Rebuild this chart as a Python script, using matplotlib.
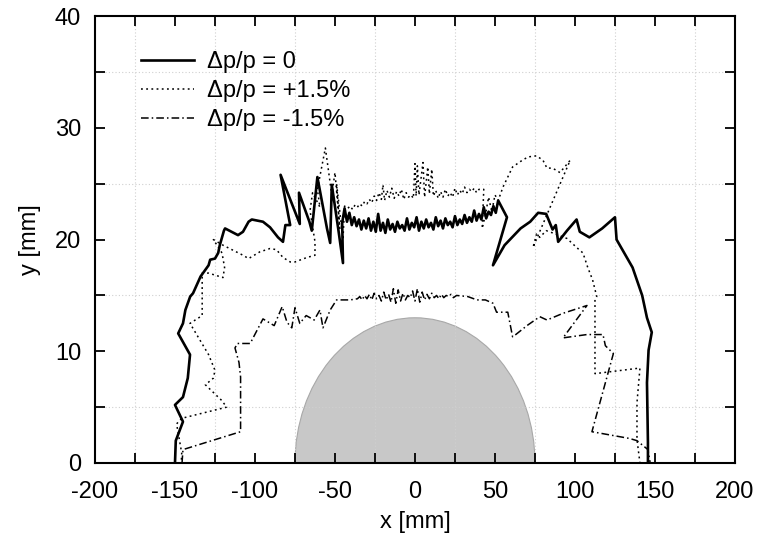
import numpy as np
import matplotlib
matplotlib.use('Agg')
import matplotlib.pyplot as plt
from matplotlib.patches import Ellipse
from matplotlib.ticker import MultipleLocator

plt.rcParams['font.family'] = ['Liberation Sans', 'DejaVu Sans']
plt.rcParams['axes.unicode_minus'] = False

# dynamic aperture contours, (x, y) in mm
# dp/p = 0
solid_left = [(-150, 0), (-149.5, 2.0), (-145, 3.7), (-150, 5.2), (-145, 5.9), (-142, 7.6),
              (-140.6, 9.7), (-148, 11.6), (-145, 12.5), (-143.5, 13.7), (-140.5, 14.9),
              (-138.7, 15.2), (-134, 16.7), (-129, 17.7), (-128, 18.2), (-125, 18.3),
              (-123, 18.8), (-122, 19.5), (-119.4, 20.8), (-118.7, 21.0), (-110.6, 20.4),
              (-107.5, 20.7), (-104, 21.6), (-102, 21.8), (-95, 21.6), (-90.6, 21.1),
              (-85.6, 20.2), (-82.5, 19.8), (-81, 21.3), (-78, 21.3), (-84, 25.8),
              (-75, 22.5), (-72, 21.4), (-72.5, 24.2), (-66, 21.6), (-64.5, 20.8),
              (-61, 25.6), (-55, 21.0), (-53, 19.7), (-52, 24.9), (-48, 21.0), (-45, 17.9),
              (-45.5, 21.5)]
solid_band = [(-44, 22.8), (-42.5, 21.6), (-41, 22.4), (-39.5, 21.3), (-38, 22.0), (-36.5, 21.2),
              (-35, 21.8), (-33.5, 20.9), (-32, 21.7), (-30.5, 21.0), (-29, 21.9), (-27.5, 20.8),
              (-26, 21.6), (-24.5, 20.7), (-23, 22.3), (-21.5, 20.8), (-20, 21.5), (-18.5, 20.6),
              (-17, 21.8), (-15.5, 20.9), (-14, 21.4), (-12.5, 20.7), (-11, 21.6), (-9.5, 21.0),
              (-8, 21.3), (-6.5, 20.8), (-5, 21.9), (-3.5, 20.9), (-2, 21.5), (-0.5, 21.1),
              (1, 22.0), (2.5, 20.8), (4, 21.6), (5.5, 21.0), (7, 21.8), (8.5, 21.1),
              (10, 21.5), (11.5, 20.9), (13, 22.0), (14.5, 21.2), (16, 21.7), (17.5, 21.0),
              (19, 21.9), (20.5, 21.3), (22, 21.6), (23.5, 21.1), (25, 22.1), (26.5, 21.3),
              (28, 21.8), (29.5, 21.4), (31, 22.2), (32.5, 21.5), (34, 22.0), (35.5, 21.6),
              (37, 22.6), (38.5, 21.7), (40, 22.3), (41.5, 21.8), (43, 22.9), (44.5, 21.9),
              (46, 22.5), (47.5, 22.2), (49, 23.0), (50.5, 22.4), (52, 23.5)]
solid_right = [(57.5, 22.0), (48.75, 17.7), (56, 19.5), (62, 20.4), (66, 21.0), (72, 21.6),
               (77, 22.4), (82, 22.3), (86, 20.9), (88, 21.3), (89.5, 19.8), (95, 20.8),
               (101, 21.8), (103, 20.7), (109, 20.2), (117, 21.0), (125, 22.0), (126, 20.0),
               (136, 17.5), (142, 15.0), (145, 13.0), (148, 11.7), (146, 10.1), (145, 7.2),
               (145.6, 1.8), (145.6, 0)]

# dp/p = +1.5%
dotted_left = [(-146, 0.3), (-145.8, 0.9), (-149, 3.5), (-145.8, 4.0), (-117.7, 5.0), (-120.8, 5.6),
               (-131, 7.0), (-126, 7.6), (-125, 8.3), (-129, 9.7), (-140.6, 12.5), (-133, 13.2),
               (-133, 17.0), (-129, 17.0), (-120, 16.6), (-119, 17.5), (-120.6, 18.8),
               (-126, 20.0), (-120, 19.5), (-113, 19.0), (-107.5, 18.6), (-104, 18.3),
               (-97, 18.9), (-90.6, 19.2), (-86.6, 19.1), (-82.5, 18.4), (-78, 18.0),
               (-75, 18.0), (-67.5, 18.4), (-62.5, 18.6), (-62.5, 19.8), (-65.6, 22.6),
               (-64, 24.2), (-59.4, 22.9), (-61, 24.5), (-56, 28.2), (-52, 24.0), (-50, 26.0),
               (-47, 21.0), (-49, 25.0), (-45, 20.0), (-44, 23.0)]
dotted_band = [(-42, 22.8), (-40.5, 23.0), (-39, 22.7), (-37.5, 23.1), (-36, 22.9), (-34.5, 23.2),
               (-33, 23.0), (-31.5, 23.4), (-30, 23.2), (-28.5, 23.6), (-27, 23.3), (-25.5, 23.9),
               (-24, 23.5), (-22.5, 24.2), (-21, 23.6), (-20, 24.9), (-19, 23.5), (-17.5, 24.4),
               (-16, 23.8), (-14.5, 24.6), (-13, 23.7), (-11.5, 24.3), (-10, 23.9), (-8.5, 24.5),
               (-7, 23.6), (-5.5, 24.2), (-4, 23.8), (-2.5, 24.0), (-1, 23.7), (0, 26.8),
               (0.7, 23.9), (1.5, 26.6), (2.5, 24.0), (5, 26.9), (6, 23.8), (8, 26.5),
               (9, 24.1), (10.5, 26.3), (11.5, 23.9), (13, 24.4), (14.5, 23.7), (16, 24.3),
               (17.5, 23.8), (19, 24.5), (20.5, 23.9), (22, 24.2), (23.5, 23.8), (25, 24.6),
               (26.5, 24.0), (28, 24.4), (29.5, 24.1), (31, 24.7), (32.5, 24.2), (34, 24.5),
               (35.5, 24.3), (37, 24.6), (38.5, 24.2), (40, 24.5), (43, 24.5)]
dotted_right = [(42, 21.0), (44, 22.2), (46, 23.8), (48, 22.5), (50, 24.0), (52, 23.5), (55, 24.7),
                (58, 25.6), (61, 26.5), (66, 27.0), (70.6, 27.4), (76, 27.5), (80, 27.1),
                (82.5, 26.4), (86, 26.4), (90.6, 26.0), (97, 27.1), (73.75, 19.3), (76, 20.5),
                (78, 20.2), (82, 20.8), (86, 20.6), (95, 20.1), (101, 19.3), (105, 18.8),
                (108, 17.5), (111, 16.4), (113.6, 14.9), (112.5, 14.6), (112.5, 8.0),
                (140.6, 8.5), (138.75, 5.4), (138.75, 2.1), (140.6, 0)]

# dp/p = -1.5%
dashdot_left = [(-145.6, 0), (-145, 1.2), (-109, 2.8), (-109, 7.7), (-110, 9.0), (-112.5, 10.3),
                (-111, 10.7), (-103, 10.7), (-95, 12.9), (-88, 12.3), (-83, 14.0), (-80, 12.6),
                (-77, 12.1), (-75, 13.9), (-72, 12.5), (-68, 13.2), (-63, 12.8), (-59.4, 13.7),
                (-57.5, 12.1), (-53, 13.7), (-49, 14.6), (-40.6, 14.6), (-36, 14.7)]
dashdot_band = [(-34.5, 14.9), (-33, 14.6), (-31.5, 15.0), (-30, 14.7), (-28.5, 15.1), (-27, 14.6),
                (-25.5, 15.2), (-24, 14.7), (-22.5, 15.0), (-21, 14.5), (-19.5, 15.3), (-18, 14.6),
                (-16.5, 15.1), (-15, 14.4), (-13.5, 15.6), (-12, 14.3), (-10.5, 15.5), (-9, 14.5),
                (-7.5, 15.2), (-6, 14.6), (-4.5, 15.0), (-3, 14.8), (-1.5, 15.4), (0, 14.5),
                (1.5, 15.6), (3, 14.4), (4.5, 15.3), (6, 14.6), (7.5, 15.1), (9, 14.7),
                (10.5, 15.2), (12, 14.8), (13.5, 15.0), (15, 14.7), (16.5, 15.1), (18, 14.8),
                (19.5, 15.0), (21, 14.9), (22.5, 15.1), (24, 14.8), (26, 15.0)]
dashdot_right = [(33, 14.9), (38.75, 14.6), (44, 14.6), (48.75, 14.3), (51, 13.5), (58, 13.5),
                 (61, 11.3), (63, 11.5), (70, 12.3), (78, 13.1), (82.5, 12.8), (92.5, 13.4),
                 (107.5, 14.1), (92.5, 11.2), (107.5, 11.5), (117.5, 11.5), (119, 10.5),
                 (124, 9.8), (110.6, 2.8), (134, 2.2), (138.75, 2.0), (145.6, 1.2), (147, 0)]

beam_half_width = 75
beam_height = 13

labels = ['\u0394p/p = 0', '\u0394p/p = +1.5%', '\u0394p/p = -1.5%']


fig = plt.figure(figsize=(7.66, 5.40), dpi=100)
ax = fig.add_axes([0.124, 0.1426, 0.8355, 0.8274])

ax.add_patch(Ellipse((0, 0), 2*beam_half_width, 2*beam_height, facecolor='#c8c8c8',
                     edgecolor='#a8a8a8', lw=0.8, zorder=1))

s = np.array(solid_left + solid_band + solid_right)
d = np.array(dotted_left + dotted_band + dotted_right)
dd = np.array(dashdot_left + dashdot_band + dashdot_right)

ax.plot(s[:, 0], s[:, 1], color='black', lw=1.9, label=labels[0], zorder=3)
ax.plot(d[:, 0], d[:, 1], color='black', lw=1.1, ls=(0, (1.2, 2.2)), label=labels[1], zorder=3)
ax.plot(dd[:, 0], dd[:, 1], color='black', lw=1.1, ls=(0, (5, 2, 1, 2)), label=labels[2], zorder=3)

ax.set_xlim(-200, 200)
ax.set_ylim(0, 40)
ax.xaxis.set_major_locator(MultipleLocator(50))
ax.xaxis.set_minor_locator(MultipleLocator(25))
ax.yaxis.set_major_locator(MultipleLocator(10))
ax.yaxis.set_minor_locator(MultipleLocator(5))
ax.tick_params(which='both', direction='in', top=True, right=True, length=7, width=1.3,
               labelsize=17)
ax.tick_params(axis='x', which='both', pad=13)
ax.tick_params(axis='y', which='both', pad=10)
ax.grid(which='minor', color='#d0d0d0', ls=(0, (1, 2)), lw=0.8)
for sp in ax.spines.values():
    sp.set_linewidth(1.5)

ax.set_xlabel('x [mm]', fontsize=17, labelpad=6)
ax.set_ylabel('y [mm]', fontsize=17, labelpad=10)

ax.legend(loc='upper left', bbox_to_anchor=(0.039, 0.97), frameon=False, fontsize=17,
          handlelength=2.25, handletextpad=0.55, labelspacing=0.31)

fig.savefig('out.png', dpi=100)
